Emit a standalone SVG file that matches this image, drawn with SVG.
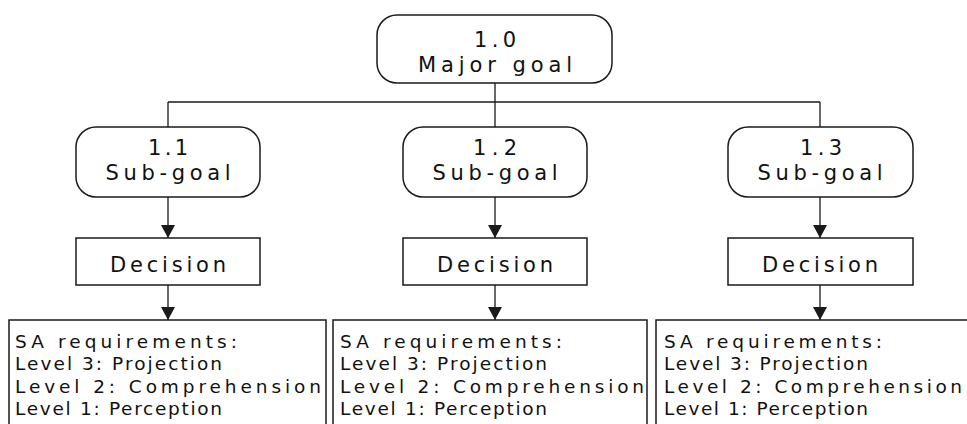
<svg xmlns="http://www.w3.org/2000/svg" width="967" height="424" viewBox="0 0 967 424">
  <style>
    .box { fill: #ffffff; stroke: #1a1a1a; stroke-width: 1.5; }
    .wire { fill: none; stroke: #1a1a1a; stroke-width: 1.3; }
    .hd { font-family: "DejaVu Sans", "Liberation Sans", sans-serif; font-size: 21px; fill: #111111; text-anchor: middle; }
    .req { font-family: "DejaVu Sans", "Liberation Sans", sans-serif; font-size: 18.5px; fill: #111111; }
  </style>
  <defs>
    <marker id="arrow" viewBox="0 0 13 14" refX="13" refY="7" markerWidth="13" markerHeight="14" markerUnits="userSpaceOnUse" orient="auto">
      <path d="M0,0 L13,7 L0,14 Z" fill="#1a1a1a"/>
    </marker>
  </defs>

  <rect width="967" height="424" fill="#ffffff"/>

  <!-- connectors -->
  <g id="connectors">
    <path class="wire" d="M495,83 V102 M168,102 H820 M168,102 V127 M495,102 V127 M820,102 V127"/>
    <line class="wire" x1="168" y1="197" x2="168" y2="238" marker-end="url(#arrow)"/>
    <line class="wire" x1="495" y1="197" x2="495" y2="238" marker-end="url(#arrow)"/>
    <line class="wire" x1="820" y1="197" x2="820" y2="238" marker-end="url(#arrow)"/>
    <line class="wire" x1="168" y1="285" x2="168" y2="320" marker-end="url(#arrow)"/>
    <line class="wire" x1="495" y1="285" x2="495" y2="320" marker-end="url(#arrow)"/>
    <line class="wire" x1="820" y1="285" x2="820" y2="320" marker-end="url(#arrow)"/>
  </g>

  <!-- major goal -->
  <g id="goal-1-0">
    <rect class="box" x="377" y="15" width="235" height="68" rx="20"/>
    <text class="hd" x="495" y="47" textLength="42" lengthAdjust="spacing">1.0</text>
    <text class="hd" x="495" y="72" textLength="154" lengthAdjust="spacing">Major goal</text>
  </g>

  <!-- sub-goals -->
  <g id="goal-1-1">
    <rect class="box" x="76" y="127" width="184" height="70" rx="20"/>
    <text class="hd" x="168" y="155" textLength="40" lengthAdjust="spacing">1.1</text>
    <text class="hd" x="168" y="180" textLength="125" lengthAdjust="spacing">Sub-goal</text>
  </g>
  <g id="goal-1-2">
    <rect class="box" x="403" y="127" width="184" height="70" rx="20"/>
    <text class="hd" x="495" y="155" textLength="44" lengthAdjust="spacing">1.2</text>
    <text class="hd" x="495" y="180" textLength="125" lengthAdjust="spacing">Sub-goal</text>
  </g>
  <g id="goal-1-3">
    <rect class="box" x="728" y="127" width="185" height="70" rx="20"/>
    <text class="hd" x="821" y="155" textLength="42" lengthAdjust="spacing">1.3</text>
    <text class="hd" x="820" y="180" textLength="125" lengthAdjust="spacing">Sub-goal</text>
  </g>

  <!-- decisions -->
  <g id="decision-1">
    <rect class="box" x="76" y="238" width="184" height="47"/>
    <text class="hd" x="168" y="272" textLength="116" lengthAdjust="spacing">Decision</text>
  </g>
  <g id="decision-2">
    <rect class="box" x="403" y="238" width="184" height="47"/>
    <text class="hd" x="495" y="272" textLength="116" lengthAdjust="spacing">Decision</text>
  </g>
  <g id="decision-3">
    <rect class="box" x="728" y="238" width="185" height="47"/>
    <text class="hd" x="820" y="272" textLength="116" lengthAdjust="spacing">Decision</text>
  </g>

  <!-- SA requirement lists -->
  <g id="sa-1">
    <rect class="box" x="9" y="320" width="317" height="120"/>
    <text class="req" x="15" y="348" textLength="222" lengthAdjust="spacing">SA requirements:</text>
    <text class="req" x="15" y="370" textLength="207" lengthAdjust="spacing">Level 3: Projection</text>
    <text class="req" x="15" y="393" textLength="306" lengthAdjust="spacing">Level 2: Comprehension</text>
    <text class="req" x="15" y="415" textLength="207" lengthAdjust="spacing">Level 1: Perception</text>
  </g>
  <g id="sa-2">
    <rect class="box" x="333" y="320" width="314" height="120"/>
    <text class="req" x="340" y="348" textLength="222" lengthAdjust="spacing">SA requirements:</text>
    <text class="req" x="340" y="370" textLength="207" lengthAdjust="spacing">Level 3: Projection</text>
    <text class="req" x="340" y="393" textLength="304" lengthAdjust="spacing">Level 2: Comprehension</text>
    <text class="req" x="340" y="415" textLength="207" lengthAdjust="spacing">Level 1: Perception</text>
  </g>
  <g id="sa-3">
    <rect class="box" x="656" y="320" width="320" height="120"/>
    <text class="req" x="664" y="348" textLength="218" lengthAdjust="spacing">SA requirements:</text>
    <text class="req" x="664" y="370" textLength="204" lengthAdjust="spacing">Level 3: Projection</text>
    <text class="req" x="664" y="393" textLength="298" lengthAdjust="spacing">Level 2: Comprehension</text>
    <text class="req" x="664" y="415" textLength="204" lengthAdjust="spacing">Level 1: Perception</text>
  </g>
</svg>
